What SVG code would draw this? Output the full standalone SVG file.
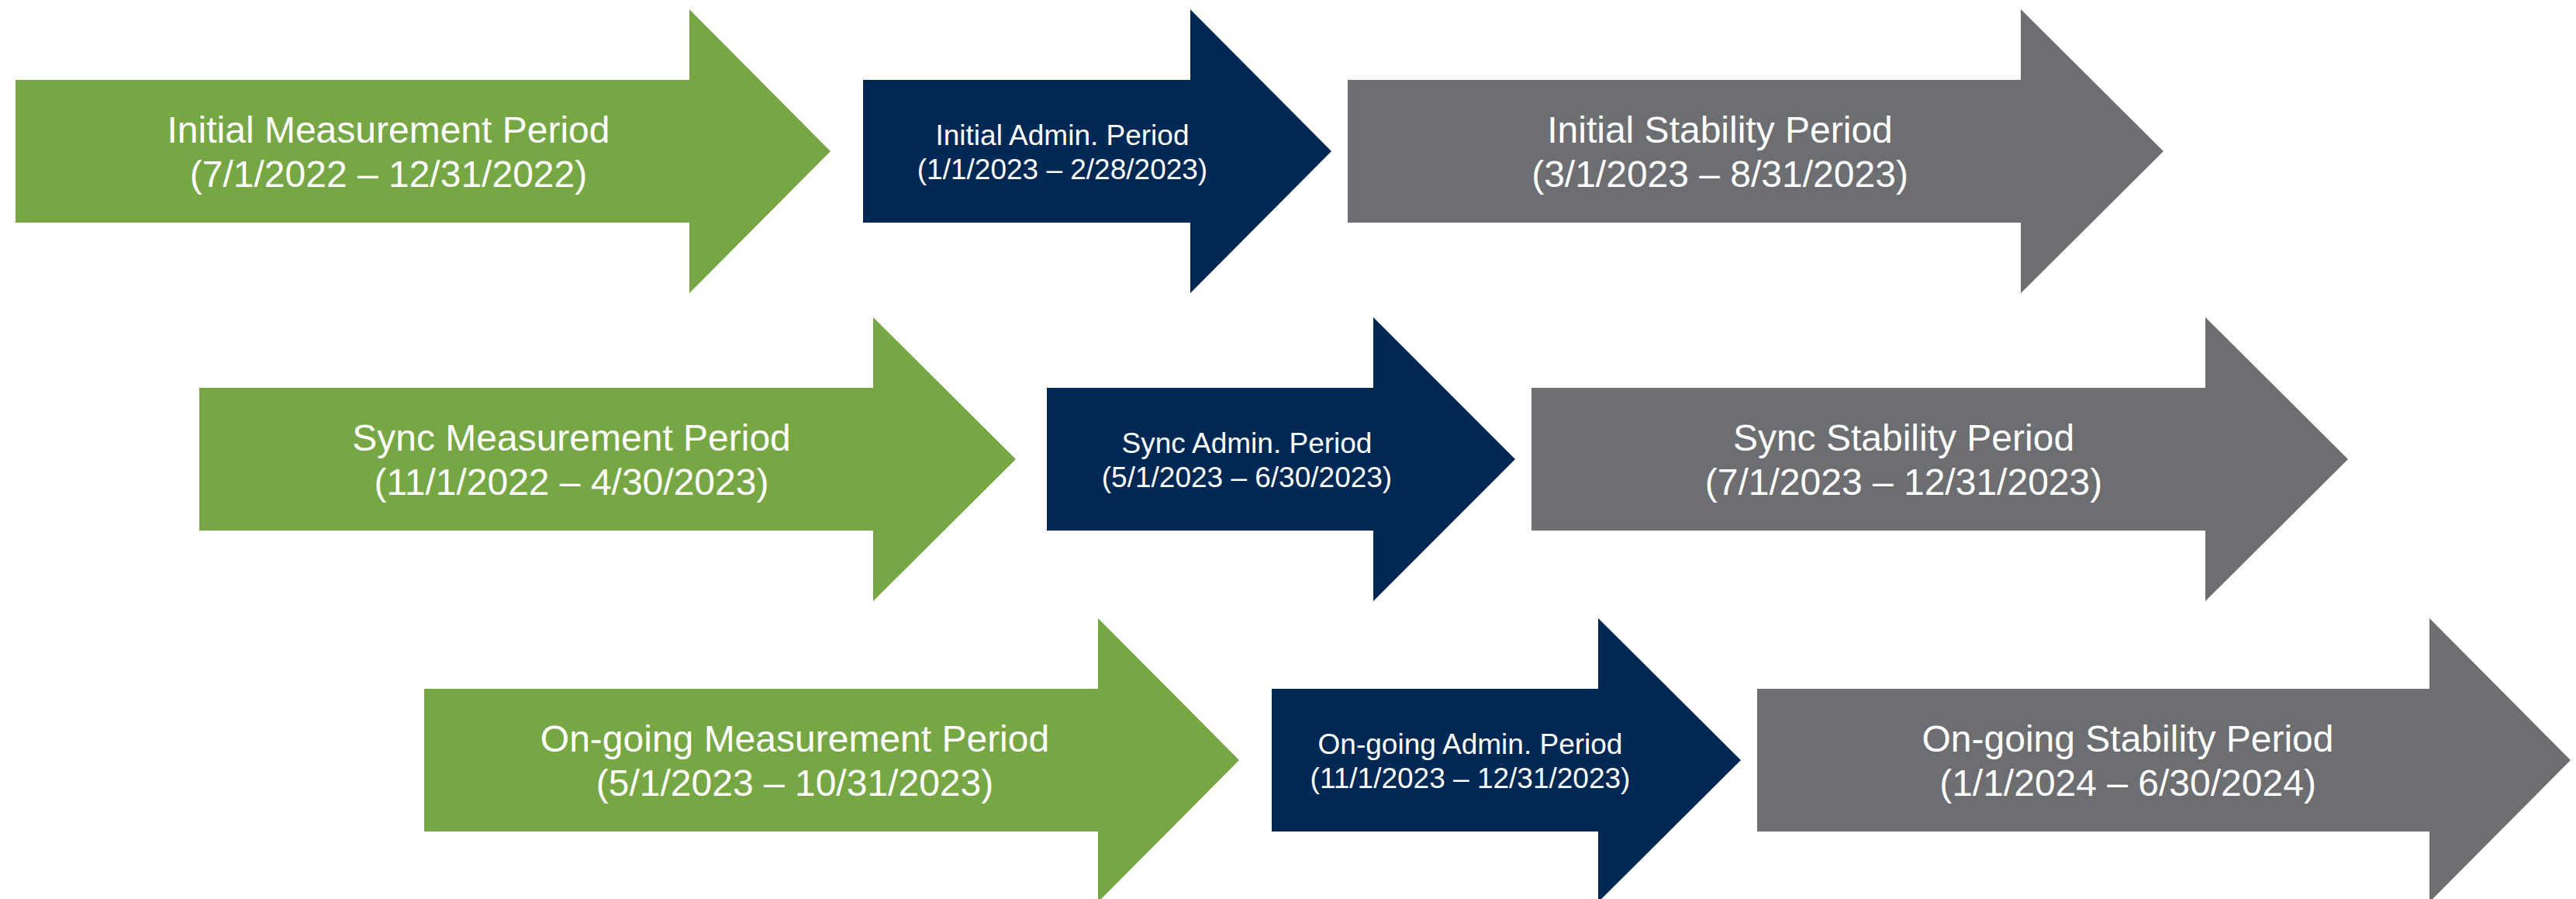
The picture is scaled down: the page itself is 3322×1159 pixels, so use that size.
<svg xmlns="http://www.w3.org/2000/svg" width="3322" height="1159" viewBox="0 0 3322 1159">
<style>
.green{fill:#76A744}
.navy{fill:#002855}
.gray{fill:#6D6E71}
text{font-family:"Liberation Sans",Arial,sans-serif;fill:#FFFFFF;text-anchor:middle}
.big{font-size:48px}
.small{font-size:37px}
</style>
<rect width="3322" height="1159" fill="#FFFFFF"/>
<g id="initial-measurement">
<polygon class="green" points="20,103 889,103 889,12 1071,195 889,378 889,287 20,287"/>
<text class="big" x="501" y="184">Initial Measurement Period</text>
<text class="big" x="501" y="241">(7/1/2022 – 12/31/2022)</text>
</g>
<g id="initial-admin">
<polygon class="navy" points="1113,103 1535,103 1535,12 1717,195 1535,378 1535,287 1113,287"/>
<text class="small" x="1370" y="187">Initial Admin. Period</text>
<text class="small" x="1370" y="231">(1/1/2023 – 2/28/2023)</text>
</g>
<g id="initial-stability">
<polygon class="gray" points="1738,103 2606,103 2606,12 2790,195 2606,378 2606,287 1738,287"/>
<text class="big" x="2218" y="184">Initial Stability Period</text>
<text class="big" x="2218" y="241">(3/1/2023 – 8/31/2023)</text>
</g>
<g id="sync-measurement">
<polygon class="green" points="257,500 1126,500 1126,409 1310,592 1126,775 1126,684 257,684"/>
<text class="big" x="737" y="581">Sync Measurement Period</text>
<text class="big" x="737" y="638">(11/1/2022 – 4/30/2023)</text>
</g>
<g id="sync-admin">
<polygon class="navy" points="1350,500 1771,500 1771,409 1954,592 1771,775 1771,684 1350,684"/>
<text class="small" x="1608" y="584">Sync Admin. Period</text>
<text class="small" x="1608" y="628">(5/1/2023 – 6/30/2023)</text>
</g>
<g id="sync-stability">
<polygon class="gray" points="1975,500 2844,500 2844,409 3028,592 2844,775 2844,684 1975,684"/>
<text class="big" x="2455" y="581">Sync Stability Period</text>
<text class="big" x="2455" y="638">(7/1/2023 – 12/31/2023)</text>
</g>
<g id="ongoing-measurement">
<polygon class="green" points="547,888 1416,888 1416,797 1598,980 1416,1163 1416,1072 547,1072"/>
<text class="big" x="1025" y="969">On-going Measurement Period</text>
<text class="big" x="1025" y="1026">(5/1/2023 – 10/31/2023)</text>
</g>
<g id="ongoing-admin">
<polygon class="navy" points="1640,888 2061,888 2061,797 2245,980 2061,1163 2061,1072 1640,1072"/>
<text class="small" x="1896" y="972">On-going Admin. Period</text>
<text class="small" x="1896" y="1016">(11/1/2023 – 12/31/2023)</text>
</g>
<g id="ongoing-stability">
<polygon class="gray" points="2266,888 3133,888 3133,797 3315,980 3133,1163 3133,1072 2266,1072"/>
<text class="big" x="2744" y="969">On-going Stability Period</text>
<text class="big" x="2744" y="1026">(1/1/2024 – 6/30/2024)</text>
</g>
</svg>
